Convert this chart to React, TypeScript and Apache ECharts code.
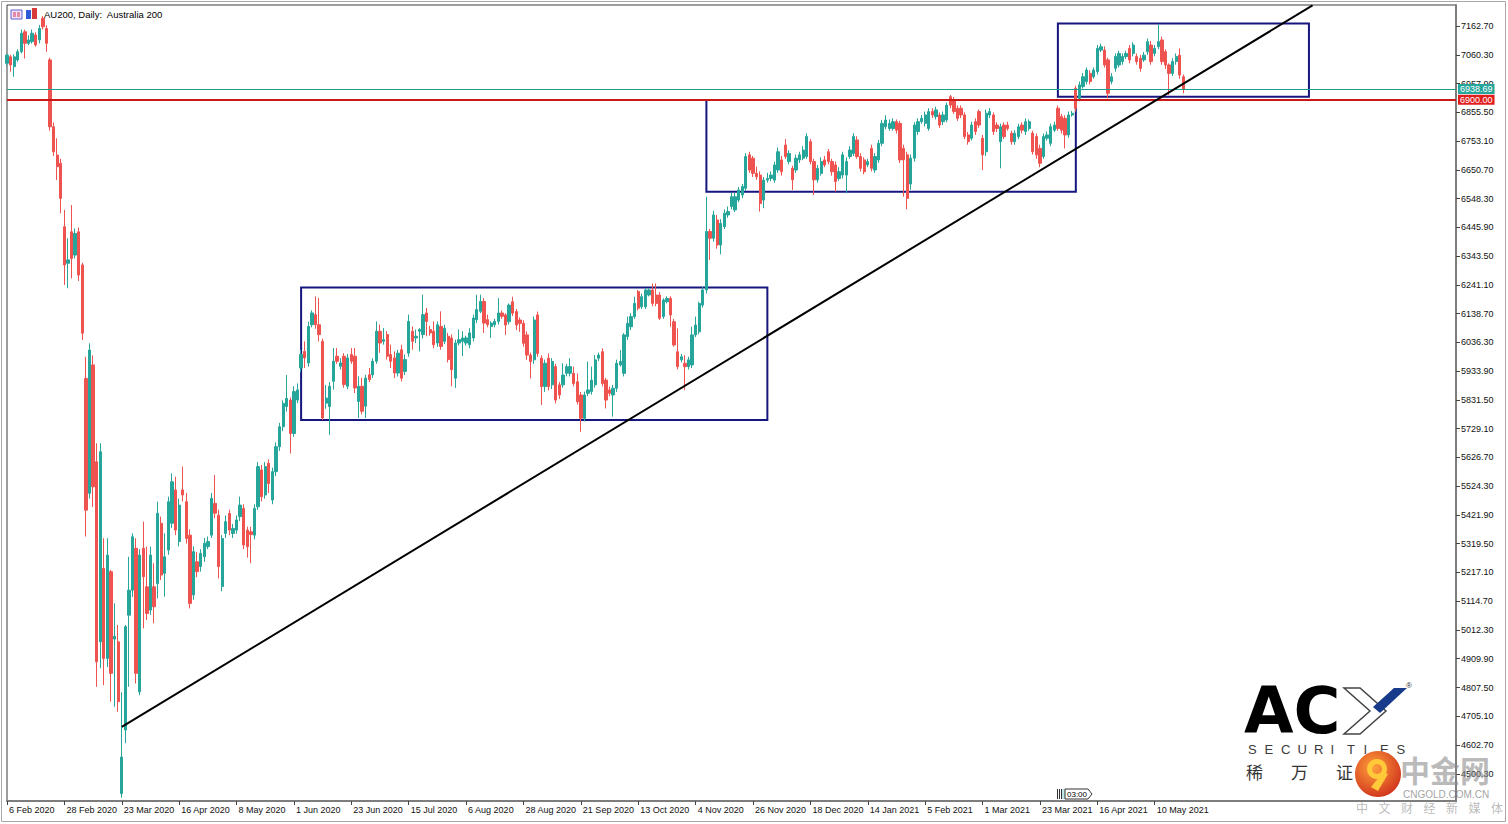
import React, { useEffect, useRef } from 'react';
import * as echarts from 'echarts';

// ---------- data ----------
const START_DATE = '2020-02-06';
const CATEGORY_COUNT = 405;
const HOLIDAYS = ['2020-04-10', '2020-04-13', '2020-12-25', '2020-12-28', '2021-01-01', '2021-04-02', '2021-04-05'];
const LABEL_DATES = [
  '2020-02-06', '2020-02-28', '2020-03-23', '2020-04-16', '2020-05-08', '2020-06-01', '2020-06-23',
  '2020-07-15', '2020-08-06', '2020-08-28', '2020-09-21', '2020-10-13', '2020-11-04', '2020-11-26',
  '2020-12-18', '2021-01-14', '2021-02-05', '2021-03-01', '2021-03-23', '2021-04-16', '2021-05-10',
];
const PRICE_TICKS = [
  7162.7, 7060.3, 6957.9, 6855.5, 6753.1, 6650.7, 6548.3, 6445.9, 6343.5, 6241.1, 6138.7, 6036.3,
  5933.9, 5831.5, 5729.1, 5626.7, 5524.3, 5421.9, 5319.5, 5217.1, 5114.7, 5012.3, 4909.9, 4807.5,
  4705.1, 4602.7, 4500.3,
];
// [open, close, low, high] per trading day from 6 Feb 2020
const OHLC: number[][] = [
  [7030,7059,7020,7065],[7053,7024,7000,7060],[7018,7053,6982,7062],[7042,7071,7035,7080],[7071,7137,7065,7150],
  [7142,7101,7047,7150],[7101,7113,7095,7130],[7107,7137,7100,7150],[7131,7095,7089,7140],[7113,7154,7101,7166],
  [7190,7160,7150,7198],[7154,7101,7071,7165],[7042,6804,6790,7050],[6804,6715,6700,6820],[6703,6662,6614,6763],
  [6674,6549,6496,6690],[6448,6312,6241,6508],[6318,6330,6229,6407],[6430,6335,6264,6525],[6347,6424,6335,6442],
  [6430,6276,6255,6445],[6312,6069,6045,6320],[5908,5439,5345,5985],[5499,6009,5480,6033],[5956,5522,5450,5990],
  [5611,4899,4810,5677],[4970,5647,4876,5677],[5232,4911,4816,5339],[4911,5279,4880,5339],[5220,4858,4757,5226],
  [4980,4990,4739,5107],[4970,4757,4721,5030],[4430,4560,4415,4790],[4656,5024,4609,5030],[5065,5154,4810,5273],
  [5154,5344,5130,5356],[5303,4858,4822,5339],[4792,5279,4780,5300],[5303,5202,5018,5398],[5166,5071,5048,5309],
  [5083,5279,5066,5309],[5166,5095,5036,5250],[5178,5428,5125,5469],[5392,5208,5190,5416],[5214,5273,5131,5356],
  [5297,5469,5280,5487],[5392,5540,5375,5570],[5511,5368,5350,5558],[5327,5457,5310,5480],[5511,5493,5470,5594],
  [5469,5338,5320,5500],[5350,5107,5089,5370],[5137,5291,5120,5310],[5255,5220,5200,5290],[5238,5285,5220,5300],
  [5273,5321,5255,5340],[5309,5327,5300,5345],[5350,5481,5340,5500],[5463,5428,5410,5564],[5421,5238,5196,5440],
  [5167,5338,5150,5350],[5356,5398,5340,5420],[5427,5368,5350,5440],[5356,5374,5340,5390],[5368,5404,5355,5420],
  [5416,5457,5400,5487],[5445,5315,5300,5460],[5368,5309,5270,5380],[5362,5352,5250,5380],[5350,5445,5335,5460],
  [5451,5594,5440,5610],[5582,5487,5470,5600],[5493,5594,5480,5610],[5606,5534,5500,5620],[5475,5576,5460,5590],
  [5576,5665,5560,5680],[5665,5736,5650,5750],[5736,5819,5720,5830],[5808,5837,5790,5920],[5831,5712,5641,5840],
  [5712,5861,5700,5880],[5831,5867,5820,5890],[5945,5993,5930,6010],[6004,5981,5945,6040],[5963,6093,5950,6110],
  [6099,6141,6090,6150],[6135,6099,6085,6200],[6099,6064,6040,6194],[6040,5767,5760,6050],[5820,5838,5800,5885],
  [5808,5880,5707,5895],[5898,5969,5868,6016],[5987,5969,5960,6016],[5951,5963,5940,5980],[5987,5886,5875,5998],
  [5880,5981,5870,5995],[5993,5969,5960,6016],[5987,5874,5856,6016],[5826,5880,5767,5915],[5880,5791,5780,5910],
  [5809,5909,5767,5921],[5921,5904,5895,5945],[5921,5969,5910,5980],[5969,6076,5960,6111],[6076,6034,5999,6100],
  [6040,6046,6028,6087],[6064,5987,5975,6076],[5993,5969,5945,6028],[5981,5927,5909,6004],[5927,5998,5915,6010],
  [6010,5909,5897,6028],[5933,5975,5920,5993],[5998,6111,5985,6135],[6076,6040,6010,6093],[6052,6058,6034,6082],
  [6076,6082,6004,6087],[6064,6135,6050,6206],[6141,6111,6058,6159],[6082,6070,6060,6095],[6076,6028,6015,6111],
  [6034,6099,6020,6111],[6093,6022,6010,6147],[6040,6087,6030,6099],[6058,5975,5965,6070],[6052,5939,5880,6065],
  [5909,6034,5874,6046],[6034,6046,6025,6082],[6040,6052,5987,6076],[6034,6052,6025,6060],[6028,6070,6015,6087],
  [6052,6123,6040,6135],[6117,6153,6105,6206],[6147,6182,6140,6206],[6182,6105,6070,6194],[6117,6099,6090,6135],
  [6093,6105,6052,6111],[6099,6111,6090,6120],[6111,6141,6100,6194],[6141,6129,6120,6150],[6134,6098,6063,6140],
  [6110,6169,6100,6175],[6181,6140,6130,6199],[6146,6098,6080,6155],[6116,6104,6074,6125],[6104,6033,6021,6115],
  [6063,5991,5974,6075],[5991,5968,5908,6000],[5974,6116,5960,6128],[6134,5997,5985,6146],[5980,5879,5813,5990],
  [5879,5962,5860,5975],[5980,5879,5865,5997],[5885,5968,5870,5980],[5950,5831,5819,5960],[5885,5849,5835,5895],
  [5885,5920,5875,5962],[5926,5950,5915,5960],[5926,5950,5915,5980],[5926,5890,5880,5950],[5896,5825,5815,5926],
  [5849,5766,5718,5860],[5766,5849,5755,5861],[5855,5867,5845,5968],[5861,5902,5850,5950],[5885,5974,5875,5991],
  [5980,5991,5970,6000],[6003,5890,5880,6015],[5902,5831,5801,5910],[5867,5855,5845,5879],[5849,5873,5772,5885],
  [5873,5962,5860,5975],[5956,5968,5950,6009],[5926,6063,5915,6069],[6057,6104,6045,6128],[6092,6128,6080,6140],
  [6128,6175,6120,6199],[6217,6158,6150,6223],[6163,6199,6155,6210],[6163,6223,6155,6229],[6205,6223,6200,6229],
  [6223,6175,6165,6246],[6205,6175,6165,6246],[6205,6122,6116,6215],[6128,6187,6120,6193],[6181,6193,6175,6200],
  [6193,6134,6092,6200],[6110,6027,6021,6120],[6003,5950,5940,6086],[5974,5985,5965,5995],[5962,5950,5867,5991],
  [5950,5974,5940,5985],[5956,6063,5945,6092],[6063,6098,6055,6128],[6074,6175,6065,6181],[6169,6223,6160,6235],
  [6223,6431,6210,6555],[6431,6407,6330,6440],[6407,6490,6395,6505],[6472,6383,6370,6490],[6383,6460,6350,6475],
  [6448,6496,6440,6510],[6490,6502,6480,6520],[6520,6555,6510,6570],[6508,6555,6500,6570],[6543,6579,6535,6590],
  [6561,6591,6550,6600],[6585,6698,6575,6710],[6704,6650,6640,6715],[6692,6638,6625,6700],[6638,6626,6615,6662],
  [6632,6531,6502,6645],[6543,6614,6514,6625],[6614,6620,6605,6640],[6620,6632,6610,6645],[6614,6668,6605,6680],
  [6650,6715,6640,6730],[6686,6644,6630,6700],[6739,6698,6690,6760],[6680,6709,6670,6720],[6656,6615,6579,6665],
  [6650,6692,6640,6705],[6686,6704,6675,6715],[6692,6721,6685,6735],[6698,6769,6690,6781],[6751,6680,6670,6760],
  [6680,6615,6561,6690],[6615,6656,6605,6668],[6638,6680,6630,6695],[6686,6668,6660,6700],[6715,6680,6670,6725],
  [6680,6644,6630,6690],[6668,6609,6573,6680],[6620,6644,6612,6660],[6632,6704,6620,6715],[6632,6680,6567,6695],
  [6698,6721,6690,6735],[6709,6769,6700,6781],[6757,6698,6690,6770],[6698,6656,6645,6710],[6686,6644,6635,6695],
  [6668,6680,6660,6690],[6727,6656,6645,6740],[6650,6698,6640,6710],[6686,6745,6675,6757],[6745,6816,6735,6828],
  [6804,6828,6795,6845],[6798,6816,6790,6830],[6798,6822,6790,6834],[6822,6792,6780,6830],[6816,6686,6675,6825],
  [6727,6686,6555,6740],[6704,6549,6510,6715],[6600,6692,6580,6705],[6692,6810,6680,6820],[6787,6822,6775,6834],
  [6822,6834,6815,6846],[6816,6846,6805,6858],[6798,6858,6790,6870],[6858,6846,6835,6870],[6840,6864,6830,6875],
  [6846,6810,6800,6855],[6822,6846,6810,6858],[6828,6881,6820,6890],[6911,6881,6870,6917],[6899,6858,6850,6910],
  [6870,6834,6825,6880],[6870,6846,6835,6880],[6846,6769,6760,6855],[6775,6751,6740,6785],[6763,6810,6755,6822],
  [6822,6787,6775,6834],[6858,6810,6800,6865],[6763,6704,6650,6775],[6715,6852,6700,6865],[6846,6858,6835,6870],
  [6846,6787,6775,6855],[6810,6798,6785,6820],[6751,6804,6656,6815],[6810,6769,6760,6820],[6810,6798,6790,6822],
  [6781,6751,6740,6790],[6751,6781,6740,6792],[6769,6804,6760,6815],[6810,6792,6780,6820],[6787,6822,6775,6834],
  [6798,6822,6790,6830],[6781,6715,6705,6790],[6769,6704,6690,6780],[6727,6674,6660,6740],[6698,6769,6690,6780],
  [6763,6775,6755,6787],[6745,6804,6735,6815],[6792,6810,6785,6822],[6870,6798,6790,6880],[6840,6792,6780,6850],
  [6834,6775,6727,6845],[6775,6846,6765,6858],[6846,6852,6840,6860],[6941,6870,6858,6950],[6905,6953,6895,6965],
  [6947,6982,6940,6995],[6965,7006,6955,7015],[6994,6965,6955,7005],[6982,7006,6975,7015],[7000,7083,6990,7095],
  [7077,7089,7070,7100],[7077,7024,7015,7090],[7042,6923,6905,7050],[6965,6982,6955,6995],[7012,7054,7000,7065],
  [7024,7065,7015,7075],[7036,7054,7025,7065],[7054,7065,7045,7075],[7083,7042,7030,7095],[7065,7095,7055,7105],
  [7054,7036,7025,7065],[7048,7012,7000,7060],[7042,7059,7035,7070],[7071,7107,7060,7118],[7095,7036,7025,7110],
  [7065,7083,7055,7095],[7089,7107,7080,7169],[7113,7036,7025,7125],[7071,7024,7010,7080],[7024,6994,6917,7030],
  [6994,7036,6985,7048],[7036,7054,7025,7065],[7059,6988,6975,7083],[6982,6938.69,6923,6990],
];
const BID_PRICE = 6938.69;
const LEVEL_PRICE = 6900.0;
const RANGE_BOXES = [
  { from: '2020-06-03', to: '2020-12-02', top: 6232, bottom: 5760 },
  { from: '2020-11-09', to: '2021-04-08', top: 6899, bottom: 6573 },
  { from: '2021-03-30', to: '2021-07-08', top: 7172, bottom: 6911 },
];
const TREND_LINE: [string, number][] = [['2020-03-23', 4667], ['2021-07-09', 7236]];

// ---------- helpers ----------
const MONTHS = ['Jan', 'Feb', 'Mar', 'Apr', 'May', 'Jun', 'Jul', 'Aug', 'Sep', 'Oct', 'Nov', 'Dec'];
function buildDates(): string[] {
  const out: string[] = [];
  const [y, m, d] = START_DATE.split('-').map(Number);
  const cur = new Date(Date.UTC(y, m - 1, d));
  while (out.length < CATEGORY_COUNT) {
    const wd = cur.getUTCDay();
    const s = cur.toISOString().slice(0, 10);
    if (wd !== 0 && wd !== 6 && !HOLIDAYS.includes(s)) out.push(s);
    cur.setUTCDate(cur.getUTCDate() + 1);
  }
  return out;
}
function fmtDate(s: string): string {
  const [y, m, d] = s.split('-');
  return `${Number(d)} ${MONTHS[Number(m) - 1]} ${y}`;
}

const UP = '#26a69a';
const DOWN = '#ef5350';
const FONT = "'Liberation Sans', Arial, sans-serif";
const CJK = "'Noto Sans CJK SC', sans-serif";

export default function App() {
  const ref = useRef<HTMLDivElement>(null);
  useEffect(() => {
    if (!ref.current) return;
    const chart = echarts.init(ref.current, null, { renderer: 'svg' });
    const dates = buildDates();
    const isLabel = (_i: number, v: string) => LABEL_DATES.includes(v);

    const graphic: any[] = [
      { type: 'rect', shape: { x: 1.5, y: 1.5, width: 1504, height: 820 }, style: { fill: 'none', stroke: '#a8a8a8', lineWidth: 1 }, silent: true },
      // title icons
      { type: 'rect', shape: { x: 11, y: 10, width: 11, height: 9 }, style: { fill: '#ece6f8', stroke: '#6a5acd', lineWidth: 1 }, z: 50 },
      { type: 'rect', shape: { x: 13, y: 12, width: 3, height: 5 }, style: { fill: '#e58aa8' }, z: 51 },
      { type: 'rect', shape: { x: 17, y: 12, width: 3, height: 5 }, style: { fill: '#e58aa8' }, z: 51 },
      { type: 'rect', shape: { x: 26, y: 10, width: 5, height: 9 }, style: { fill: '#2f5bd6' }, z: 50 },
      { type: 'rect', shape: { x: 32, y: 8, width: 5, height: 11 }, style: { fill: '#d63a3a' }, z: 50 },
      { type: 'text', x: 44, y: 14, style: { text: 'AU200, Daily:  Australia 200', fill: '#000', font: `9.5px ${FONT}`, verticalAlign: 'middle' }, z: 50 },
      // 03:00 marker
      { type: 'line', shape: { x1: 1057.5, y1: 789, x2: 1057.5, y2: 799 }, style: { stroke: '#333', lineWidth: 1 }, z: 50 },
      { type: 'line', shape: { x1: 1059.5, y1: 789, x2: 1059.5, y2: 799 }, style: { stroke: '#333', lineWidth: 1 }, z: 50 },
      { type: 'line', shape: { x1: 1061.5, y1: 789, x2: 1061.5, y2: 799 }, style: { stroke: '#333', lineWidth: 1 }, z: 50 },
      { type: 'rect', shape: { x: 1062, y: 789, width: 3, height: 10 }, style: { fill: '#bfe6e6' }, z: 50 },
      { type: 'polygon', shape: { points: [[1065, 789], [1088, 789], [1092, 794], [1088, 799], [1065, 799]] }, style: { fill: '#fff', stroke: '#333', lineWidth: 1 }, z: 50 },
      { type: 'text', x: 1067, y: 794, style: { text: '03:00', fill: '#000', font: `8px ${FONT}`, verticalAlign: 'middle' }, z: 51 },
      // ACY watermark
      {
        type: 'text', x: 1244, y: 711, z: 60,
        style: {
          text: 'AC', font: `bold 64px 'DejaVu Sans', sans-serif`, verticalAlign: 'middle', lineHeight: 48,
          fill: new echarts.graphic.LinearGradient(0, 0, 1, 1, [{ offset: 0, color: '#0b2560' }, { offset: 1, color: '#2a56b8' }]),
        },
      },
      { type: 'polygon', shape: { points: [[1344, 688], [1360, 688], [1386, 711], [1360, 734], [1344, 734], [1370, 711]] }, style: { fill: '#fff', stroke: '#444', lineWidth: 1.5 }, z: 60 },
      { type: 'polygon', shape: { points: [[1373, 707], [1394, 688], [1407, 688], [1380, 713]] }, style: { fill: '#173a8a' }, z: 61 },
      { type: 'text', x: 1406, y: 685, style: { text: '®', fill: '#333', font: `8px ${FONT}`, verticalAlign: 'middle' }, z: 60 },
      ...'SECURITIES'.split('').map((ch, k) => ({
        type: 'text', x: 1248 + k * 16.5, y: 749, z: 60,
        style: { text: ch, fill: '#3a3a3a', font: `13px ${FONT}`, verticalAlign: 'middle' },
      })),
      ...['稀', '万', '证', '券'].map((ch, k) => ({
        type: 'text', x: 1246 + k * 45, y: 771, z: 60,
        style: { text: ch, fill: '#333', font: `17px ${CJK}`, verticalAlign: 'middle' },
      })),
      // cngold watermark
      {
        type: 'text', x: 1400, y: 769, z: 62,
        style: { text: '中金网', fill: 'rgba(140,140,140,0.6)', font: `bold 30px ${CJK}`, verticalAlign: 'middle', lineHeight: 30 },
      },
      {
        type: 'circle', shape: { cx: 1378, cy: 774, r: 23 }, z: 63,
        style: { fill: new echarts.graphic.RadialGradient(0.4, 0.35, 0.75, [{ offset: 0, color: '#ffa03c' }, { offset: 1, color: '#cc2a1a' }]) },
      },
      { type: 'ring', shape: { cx: 1377, cy: 769, r: 10, r0: 5 }, style: { fill: '#ffc93a' }, z: 64 },
      { type: 'polygon', shape: { points: [[1383, 772], [1388, 774], [1378, 791], [1371, 787]] }, style: { fill: '#ffc93a' }, z: 64 },
      { type: 'text', x: 1403, y: 794, style: { text: 'CNGOLD.COM.CN', fill: 'rgba(130,130,130,0.75)', font: `10px ${FONT}`, verticalAlign: 'middle' }, z: 62 },
      ...['中', '文', '财', '经', '新', '媒', '体'].map((ch, k) => ({
        type: 'text', x: 1356 + k * 22.5, y: 807, z: 62,
        style: { text: ch, fill: 'rgba(150,150,150,0.65)', font: `12px ${CJK}`, verticalAlign: 'middle' },
      })),
    ];

    const hLabel = (bg: string) => ({
      show: true, position: 'end', distance: 2, color: '#fff', backgroundColor: bg,
      padding: [1, 2, 0, 2], fontSize: 9, fontFamily: FONT,
      formatter: (p: any) => Number(p.value).toFixed(2),
    });

    chart.setOption({
      animation: false,
      backgroundColor: '#fff',
      grid: { left: 7, right: 52, top: 5, bottom: 23, show: true, borderColor: '#3c3c3c', borderWidth: 1, backgroundColor: '#fff' },
      xAxis: {
        type: 'category', data: dates, boundaryGap: false,
        axisLine: { show: true, lineStyle: { color: '#7d7d7d', width: 2 } },
        axisTick: { show: true, interval: isLabel, length: 4, lineStyle: { color: '#444' } },
        axisLabel: {
          interval: isLabel, formatter: (v: string) => fmtDate(v), align: 'left', padding: [0, 0, 0, 2],
          margin: 4, fontSize: 9, fontFamily: FONT, color: '#111',
        },
        splitLine: { show: false },
      },
      yAxis: {
        type: 'value', position: 'right', min: 4403.4, max: 7237.5, scale: true,
        axisLine: { show: true, lineStyle: { color: '#7d7d7d', width: 2 } },
        axisTick: { show: true, length: 4, customValues: PRICE_TICKS, lineStyle: { color: '#444' } },
        axisLabel: {
          customValues: PRICE_TICKS, formatter: (v: number) => v.toFixed(2),
          margin: 5, fontSize: 9, fontFamily: FONT, color: '#111',
        },
        splitLine: { show: false },
      },
      graphic,
      series: [
        {
          type: 'candlestick',
          data: OHLC,
          barWidth: 2.8,
          itemStyle: { color: UP, color0: DOWN, borderColor: UP, borderColor0: DOWN, borderWidth: 1 },
          markArea: {
            silent: true,
            label: { show: false },
            itemStyle: { color: 'rgba(0,0,0,0)', borderColor: '#16167e', borderWidth: 2 },
            data: RANGE_BOXES.map((b) => [
              { xAxis: b.from, yAxis: b.top },
              { xAxis: b.to, yAxis: b.bottom },
            ]),
          },
          markLine: {
            silent: true,
            symbol: ['none', 'none'],
            data: [
              { yAxis: BID_PRICE, lineStyle: { color: '#1a9e90', width: 1, type: 'solid', opacity: 1 }, label: hLabel('#26a69a') },
              { yAxis: LEVEL_PRICE, lineStyle: { color: '#c81818', width: 2, type: 'solid', opacity: 1 }, label: hLabel('#e01e1e') },
              [
                { coord: TREND_LINE[0], lineStyle: { color: '#000', width: 2, type: 'solid', opacity: 1 }, label: { show: false } },
                { coord: TREND_LINE[1] },
              ],
            ],
          },
        },
      ],
    });
    return () => chart.dispose();
  }, []);

  return <div ref={ref} style={{ position: 'absolute', left: 0, top: 0, width: 1508, height: 824 }} />;
}
